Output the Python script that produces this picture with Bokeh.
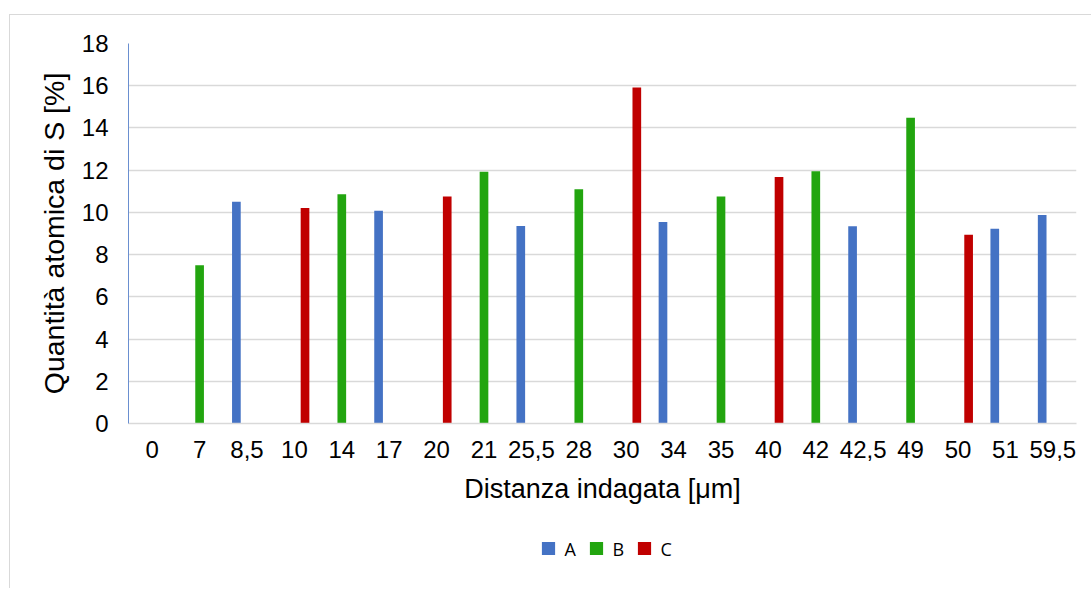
from bokeh.plotting import figure
from bokeh.layouts import column
from bokeh.models import (FactorRange, Range1d, FixedTicker, Legend, LegendItem,
                          ColumnDataSource, BoxAnnotation)
from bokeh.transform import dodge
from bokeh.embed import file_html
from bokeh.resources import INLINE

categories = ["0", "7", "8,5", "10", "14", "17", "20", "21", "25,5", "28",
              "30", "34", "35", "40", "42", "42,5", "49", "50", "51", "59,5"]

a_cats = ["8,5", "17", "25,5", "34", "42,5", "51", "59,5"]
a_vals = [10.50, 10.08, 9.35, 9.55, 9.34, 9.22, 9.88]

b_cats = ["7", "14", "21", "28", "35", "42", "49"]
b_vals = [7.50, 10.86, 11.92, 11.10, 10.75, 11.95, 14.48]

c_cats = ["10", "20", "30", "40", "50"]
c_vals = [10.21, 10.75, 15.92, 11.68, 8.94]

series_names = ["A", "B", "C"]
colors = ["#4472C4", "#22A50F", "#C00000"]
y_ticks = [0, 2, 4, 6, 8, 10, 12, 14, 16, 18]

BORDER = "1px solid #D9D9D9"

p = figure(width=1082, height=505, output_backend="svg", toolbar_location=None,
           x_range=FactorRange(*categories, range_padding=0),
           y_range=Range1d(0, 18),
           min_border_left=118, min_border_right=16, min_border_top=28,
           min_border_bottom=97,
           margin=(14, 0, 0, 9),
           styles={"border-top": BORDER, "border-left": BORDER})
p.outline_line_color = None
p.background_fill_color = "white"
p.border_fill_color = "white"

offsets = [-0.224, 0.0, 0.224]
sources = []
for name, cats, vals, col, off in zip(series_names, [a_cats, b_cats, c_cats],
                                      [a_vals, b_vals, c_vals], colors, offsets):
    src = ColumnDataSource(dict(x=cats, y=vals))
    sources.append(src)
    p.vbar(x=dodge("x", off, range=p.x_range), top="y", width=0.183,
           source=src, fill_color=col, line_color=None)

# axes
p.yaxis.ticker = FixedTicker(ticks=y_ticks)
p.yaxis.major_tick_line_color = None
p.yaxis.minor_tick_line_color = None
p.yaxis.major_tick_out = 0
p.yaxis.major_tick_in = 0
p.yaxis.major_label_standoff = 20
p.yaxis.axis_line_color = "#6A8FD0"
p.yaxis.axis_line_width = 1
p.yaxis.major_label_text_font = "Liberation Sans"
p.yaxis.major_label_text_font_size = "24px"
p.yaxis.major_label_text_color = "#000000"
p.yaxis.axis_label = "Quantità atomica di S [%]"
p.yaxis.axis_label_text_font = "Liberation Sans"
p.yaxis.axis_label_text_font_size = "28.5px"
p.yaxis.axis_label_text_font_style = "normal"
p.yaxis.axis_label_text_color = "#000000"
p.yaxis.axis_label_standoff = 9

p.xaxis.major_tick_line_color = None
p.xaxis.minor_tick_line_color = None
p.xaxis.major_tick_out = 0
p.xaxis.major_tick_in = 0
p.xaxis.major_label_standoff = 17
p.xaxis.axis_line_color = "#D9D9D9"
p.xaxis.axis_line_width = 1.5
p.xaxis.major_label_text_font = "Liberation Sans"
p.xaxis.major_label_text_font_size = "24px"
p.xaxis.major_label_text_color = "#000000"
p.xaxis.axis_label = "Distanza indagata [μm]"
p.xaxis.axis_label_text_font = "Liberation Sans"
p.xaxis.axis_label_text_font_size = "27px"
p.xaxis.axis_label_text_font_style = "normal"
p.xaxis.axis_label_text_color = "#000000"
p.xaxis.axis_label_standoff = 13

p.xgrid.grid_line_color = None
p.ygrid.grid_line_color = "#D9D9D9"
p.ygrid.grid_line_width = 1.3

# legend strip below the chart (series placed far out of view, only the legend shows)
q = figure(width=1082, height=69, output_backend="svg", toolbar_location=None,
           x_axis_type=None, y_axis_type=None,
           x_range=FactorRange(*categories, range_padding=0),
           y_range=Range1d(100, 101),
           min_border_left=105, min_border_right=0, min_border_top=0,
           min_border_bottom=11,
           margin=(0, 0, 0, 9),
           styles={"border-left": BORDER})
q.outline_line_color = None
q.background_fill_color = "white"
q.border_fill_color = "white"
legend_renderers = []
for src, col in zip(sources, colors):
    legend_renderers.append(q.scatter(x="x", y="y", source=src, marker="square",
                                      size=13, fill_color=col, line_color=None))

cover = BoxAnnotation(fill_color="white", fill_alpha=1.0, line_color=None)
q.add_layout(cover)

legend = Legend(items=[LegendItem(label=n, renderers=[r])
                       for n, r in zip(series_names, legend_renderers)],
                orientation="horizontal", location="center",
                glyph_width=33, glyph_height=33, label_standoff=-4, spacing=3,
                padding=0, margin=0, border_line_color=None,
                background_fill_alpha=0,
                label_text_font="Open Sans", label_text_font_size="18px",
                label_text_color="#000000", label_height=16, label_width=12)
q.add_layout(legend, "center")

layout = column(p, q, spacing=0)
open("out.html", "w").write(file_html(layout, INLINE))
